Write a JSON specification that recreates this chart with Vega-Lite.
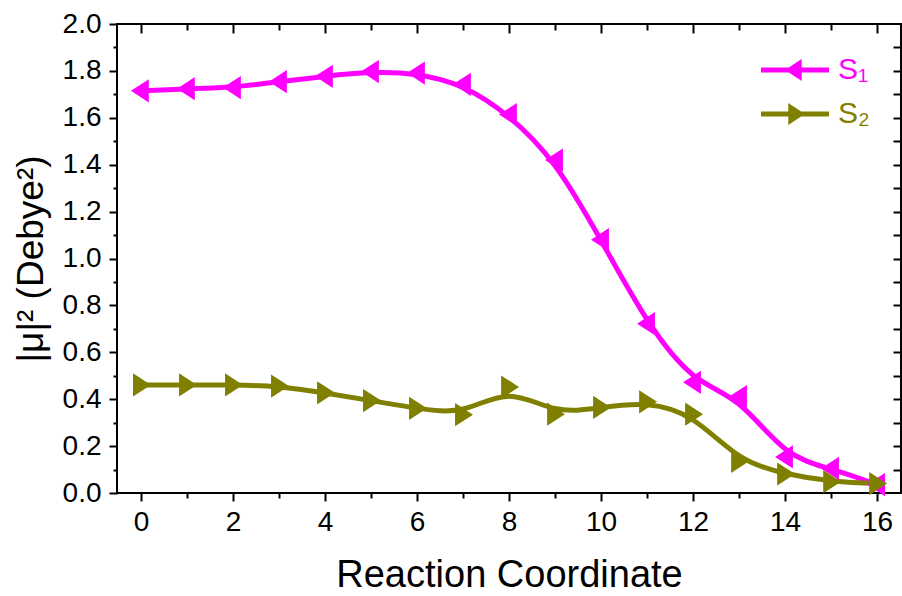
{
  "$schema": "https://vega.github.io/schema/vega-lite/v6.json",
  "width": 784,
  "height": 469,
  "autosize": {"type": "none"},
  "padding": {"left": 117, "top": 24, "right": 1, "bottom": 103},
  "config": {
    "font": "Liberation Sans",
    "view": {"stroke": "black", "strokeWidth": 2},
    "axis": {
      "grid": false,
      "domain": false,
      "tickColor": "black",
      "tickWidth": 2,
      "labelColor": "black",
      "labelFont": "Liberation Sans",
      "labelFontSize": 28,
      "titleFont": "Liberation Sans",
      "titleFontWeight": "normal",
      "titleColor": "black"
    }
  },
  "data": {
    "values": [
      {"rc": 0, "state": "S₁", "mu2": 1.715},
      {"rc": 1, "state": "S₁", "mu2": 1.724},
      {"rc": 2, "state": "S₁", "mu2": 1.729},
      {"rc": 3, "state": "S₁", "mu2": 1.754},
      {"rc": 4, "state": "S₁", "mu2": 1.777},
      {"rc": 5, "state": "S₁", "mu2": 1.797},
      {"rc": 6, "state": "S₁", "mu2": 1.791},
      {"rc": 7, "state": "S₁", "mu2": 1.743},
      {"rc": 8, "state": "S₁", "mu2": 1.614},
      {"rc": 9, "state": "S₁", "mu2": 1.42},
      {"rc": 10, "state": "S₁", "mu2": 1.08},
      {"rc": 11, "state": "S₁", "mu2": 0.722},
      {"rc": 12, "state": "S₁", "mu2": 0.472},
      {"rc": 13, "state": "S₁", "mu2": 0.411},
      {"rc": 14, "state": "S₁", "mu2": 0.154},
      {"rc": 15, "state": "S₁", "mu2": 0.105},
      {"rc": 16, "state": "S₁", "mu2": 0.036},
      {"rc": 0, "state": "S₂", "mu2": 0.461},
      {"rc": 1, "state": "S₂", "mu2": 0.461},
      {"rc": 2, "state": "S₂", "mu2": 0.461},
      {"rc": 3, "state": "S₂", "mu2": 0.456},
      {"rc": 4, "state": "S₂", "mu2": 0.427},
      {"rc": 5, "state": "S₂", "mu2": 0.394},
      {"rc": 6, "state": "S₂", "mu2": 0.361},
      {"rc": 7, "state": "S₂", "mu2": 0.334},
      {"rc": 8, "state": "S₂", "mu2": 0.452},
      {"rc": 9, "state": "S₂", "mu2": 0.336},
      {"rc": 10, "state": "S₂", "mu2": 0.365},
      {"rc": 11, "state": "S₂", "mu2": 0.389},
      {"rc": 12, "state": "S₂", "mu2": 0.336},
      {"rc": 13, "state": "S₂", "mu2": 0.135},
      {"rc": 14, "state": "S₂", "mu2": 0.081},
      {"rc": 15, "state": "S₂", "mu2": 0.048},
      {"rc": 16, "state": "S₂", "mu2": 0.04}
    ]
  },
  "resolve": {"axis": {"x": "independent", "y": "independent"}},
  "layer": [
    {
      "mark": {"type": "line", "interpolate": "basis", "strokeWidth": 5},
      "encoding": {
        "x": {
          "field": "rc", "type": "quantitative",
          "scale": {"domain": [-0.52, 16.52], "nice": false, "zero": false},
          "axis": {
            "orient": "bottom",
            "values": [0, 2, 4, 6, 8, 10, 12, 14, 16],
            "tickSize": 8,
            "labelPadding": 7,
            "title": "Reaction Coordinate",
            "titleFontSize": 38,
            "titlePadding": 20
          }
        },
        "y": {
          "field": "mu2", "type": "quantitative",
          "scale": {"domain": [0, 2], "nice": false},
          "axis": {
            "orient": "left",
            "values": [0, 0.2, 0.4, 0.6, 0.8, 1.0, 1.2, 1.4, 1.6, 1.8, 2.0],
            "format": ".1f",
            "tickSize": 8,
            "labelPadding": 8,
            "title": "|μ|² (Debye²)",
            "titleFontSize": 37,
            "titlePadding": 12
          }
        },
        "color": {
          "field": "state", "type": "nominal",
          "scale": {"domain": ["S₁", "S₂"], "range": ["#FF00FF", "#808000"]},
          "legend": {
            "orient": "none",
            "legendX": 663,
            "legendY": 31,
            "title": null,
            "padding": 0,
            "symbolSize": 400,
            "labelFontSize": 30,
            "labelFont": "Liberation Sans",
            "labelOffset": 28,
            "rowPadding": 14,
            "encode": {
              "symbols": {
                "update": {
                  "shape": {"signal": "datum.value === 'S₁' ? 'M-3.4,-0.25H3.4V0.25H-3.4Z M-1,0L0.67,-1.1L0.67,1.1Z' : 'M-3.4,-0.25H3.4V0.25H-3.4Z M1,0L-0.67,1.1L-0.67,-1.1Z'"},
                  "fill": {"signal": "datum.value === 'S₁' ? '#FF00FF' : '#808000'"},
                  "fillOpacity": {"value": 1},
                  "strokeWidth": {"value": 0},
                  "opacity": {"value": 1}
                }
              },
              "labels": {
                "update": {
                  "fill": {"signal": "datum.value === 'S₁' ? '#FF00FF' : '#808000'"}
                }
              }
            }
          }
        }
      }
    },
    {
      "transform": [{"filter": "datum.state === 'S₁'"}],
      "mark": {"type": "point", "filled": true, "opacity": 1, "size": 540, "color": "#FF00FF", "shape": "M0.68,-1L-0.86,0L0.68,1Z"},
      "encoding": {
        "x": {
          "field": "rc", "type": "quantitative",
          "axis": {"orient": "bottom", "values": [1, 3, 5, 7, 9, 11, 13, 15], "tickSize": 5, "labels": false, "title": null}
        },
        "y": {
          "field": "mu2", "type": "quantitative",
          "axis": {"orient": "left", "values": [0.1, 0.3, 0.5, 0.7, 0.9, 1.1, 1.3, 1.5, 1.7, 1.9], "tickSize": 4, "labels": false, "title": null}
        }
      }
    },
    {
      "transform": [{"filter": "datum.state === 'S₂'"}],
      "mark": {"type": "point", "filled": true, "opacity": 1, "size": 540, "color": "#808000", "shape": "M-0.68,-1L0.86,0L-0.68,1Z"},
      "encoding": {
        "x": {
          "field": "rc", "type": "quantitative",
          "axis": {"orient": "top", "values": [1, 3, 5, 7, 9, 11, 13, 15], "tickSize": -6, "labels": false, "title": null}
        },
        "y": {"field": "mu2", "type": "quantitative", "axis": null}
      }
    },
    {
      "mark": {"type": "point", "opacity": 0, "size": 1},
      "encoding": {
        "x": {
          "field": "rc", "type": "quantitative",
          "axis": {"orient": "top", "values": [0, 2, 4, 6, 8, 10, 12, 14, 16], "tickSize": -9, "labels": false, "title": null}
        },
        "y": {
          "field": "mu2", "type": "quantitative",
          "axis": {"orient": "right", "values": [0.1, 0.2, 0.3, 0.4, 0.5, 0.6, 0.7, 0.8, 0.9, 1.0, 1.1, 1.2, 1.3, 1.4, 1.5, 1.6, 1.7, 1.8, 1.9], "tickSize": -8, "labels": false, "title": null}
        }
      }
    }
  ]
}
